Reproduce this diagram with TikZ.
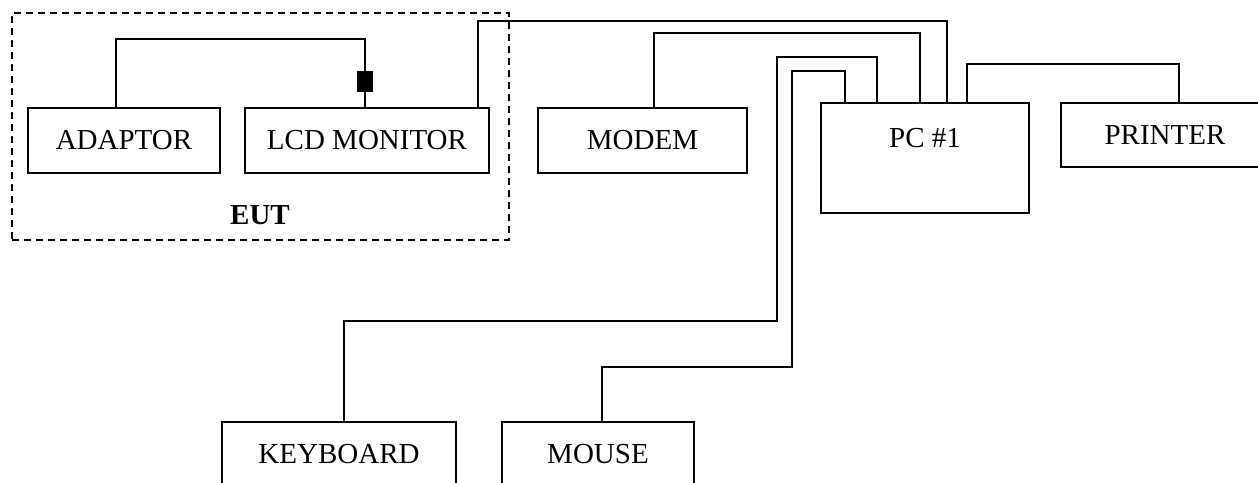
\documentclass[tikz,border=0pt]{standalone}
\usepackage{fontspec}
\setmainfont{Liberation Serif}
\usetikzlibrary{calc}
\tikzset{
  unit/.style={draw=black, line width=1.2pt, rectangle, inner sep=0pt, font=\fontsize{29}{34}\selectfont},
  cable/.style={draw=black, line width=1.2pt},
  eutbox/.style={draw=black, line width=1.2pt, dash pattern=on 7pt off 5pt, rectangle, inner sep=0pt},
  core/.style={fill=black, rectangle, inner sep=0pt, minimum width=16pt, minimum height=21pt},
}

\begin{document}
\begin{tikzpicture}[x=1pt,y=-1pt]
           \clip (0,0) rectangle (1258,482);
           % equipment under test
           \node[eutbox,minimum width=497pt,minimum height=227pt] (eut) at (260.5,126.5) {};
           \node[font=\fontsize{29}{34}\selectfont\bfseries] (eutlabel) at (260,215) {EUT};
           \node[unit,minimum width=192pt,minimum height=65pt] (adaptor) at (124,140.5) {ADAPTOR};
           \node[unit,minimum width=244pt,minimum height=65pt] (lcd) at (367,140.5) {LCD MONITOR};
           % support units
           \node[unit,minimum width=209pt,minimum height=65pt] (modem) at (642.5,140.5) {MODEM};
           \node[unit,minimum width=208pt,minimum height=110pt] (pc) at (925,158) {};
           \node[font=\fontsize{29}{34}\selectfont] (pclabel) at (925,138) {PC \#1};
           \node[unit,minimum width=208pt,minimum height=64pt] (printer) at (1165,135) {PRINTER};
           \node[unit,minimum width=234pt,minimum height=65pt] (keyboard) at (339,454.5) {KEYBOARD};
           \node[unit,minimum width=192pt,minimum height=65pt] (mouse) at (598,454.5) {MOUSE};
           \node[core] (ferrite) at (365,81.5) {};
           % cables
           \draw[cable] (116,0 |- adaptor.north) |- (365,39) -- (ferrite.north);
           \draw[cable] (ferrite.south) -- (365,0 |- lcd.north);
           \draw[cable] (478,0 |- lcd.north) |- (947,21) -- (947,0 |- pc.north);
           \draw[cable] (654,0 |- modem.north) |- (920,33) -- (920,0 |- pc.north);
           \draw[cable] (344,0 |- keyboard.north) |- (777,321) |- (877,57) -- (877,0 |- pc.north);
           \draw[cable] (602,0 |- mouse.north) |- (792,367) |- (845,71) -- (845,0 |- pc.north);
           \draw[cable] (967,0 |- pc.north) |- (1179,64) -- (1179,0 |- printer.north);
        \end{tikzpicture}
\end{document}
